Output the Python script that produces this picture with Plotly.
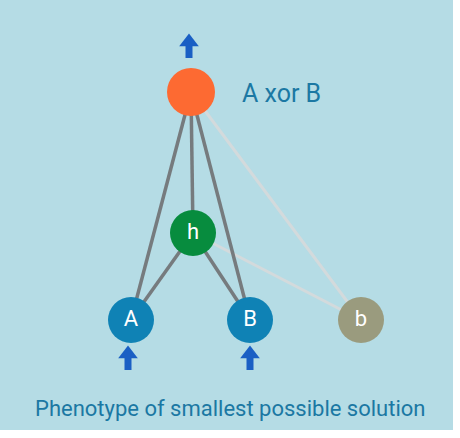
import plotly.graph_objects as go

node_names = ["out", "h", "A", "B", "b"]
node_labels = ["", "h", "A", "B", "b"]
node_x = [191, 193, 131, 250, 361]
node_y = [92, 233, 320, 320, 320]
node_colors = ["#fd6a32", "#078c3e", "#0f82b5", "#0f82b5", "#9a9b7e"]
node_sizes = [48, 46, 46, 46, 46]
strong_edges = [("out", "A"), ("out", "h"), ("out", "B"), ("h", "A"), ("h", "B")]
weak_edges = [("out", "b"), ("h", "b")]
arrow_nodes = ["out", "A", "B"]
arrow_x = [189, 128, 250]
arrow_base_y = [58, 370, 370]
title_text = "A xor B"
caption = "Phenotype of smallest possible solution"

pos = {n: (x, y) for n, x, y in zip(node_names, node_x, node_y)}
fig = go.Figure()

def edge_trace(edges, color, width):
    xs, ys = [], []
    for a, b in edges:
        xs += [pos[a][0], pos[b][0], None]
        ys += [pos[a][1], pos[b][1], None]
    return go.Scatter(x=xs, y=ys, mode="lines", line=dict(color=color, width=width), hoverinfo="skip")

fig.add_trace(edge_trace(weak_edges, "#d3dadc", 3))
fig.add_trace(edge_trace(strong_edges, "#767b7e", 3.5))
fig.add_trace(go.Scatter(x=node_x, y=node_y, mode="markers+text", text=node_labels,
    marker=dict(size=node_sizes, color=node_colors, opacity=1, line=dict(width=0)),
    textfont=dict(color="white", size=22, family="Roboto"), textposition="middle center"))

for x, y in zip(arrow_x, arrow_base_y):
    fig.add_trace(go.Scatter(x=[x, x], y=[y, y - 12], mode="lines",
        line=dict(color="#1a5fc4", width=7), hoverinfo="skip"))
    fig.add_trace(go.Scatter(x=[x], y=[y - 16], mode="markers",
        marker=dict(symbol="triangle-up", size=17, color="#1a5fc4", opacity=1), hoverinfo="skip"))

fig.add_annotation(x=240, y=93, text=title_text, showarrow=False, xanchor="left",
    font=dict(size=25, color="#1b78a3", family="Roboto"))
fig.add_annotation(x=230, y=408, text=caption, showarrow=False,
    font=dict(size=22, color="#1b78a3", family="Roboto"))

fig.add_shape(type="rect", x0=0, x1=453, y0=0, y1=430, fillcolor="#b5dce5",
    line=dict(width=0), layer="below")

fig.update_layout(width=460, height=438, margin=dict(l=0, r=0, t=0, b=0),
    paper_bgcolor="white", plot_bgcolor="white", showlegend=False,
    xaxis=dict(range=[0, 460], visible=False, fixedrange=True),
    yaxis=dict(range=[438, 0], visible=False, fixedrange=True))
fig.write_html("out.html", config={"displayModeBar": False},
    post_script="document.body.style.margin='0';")
